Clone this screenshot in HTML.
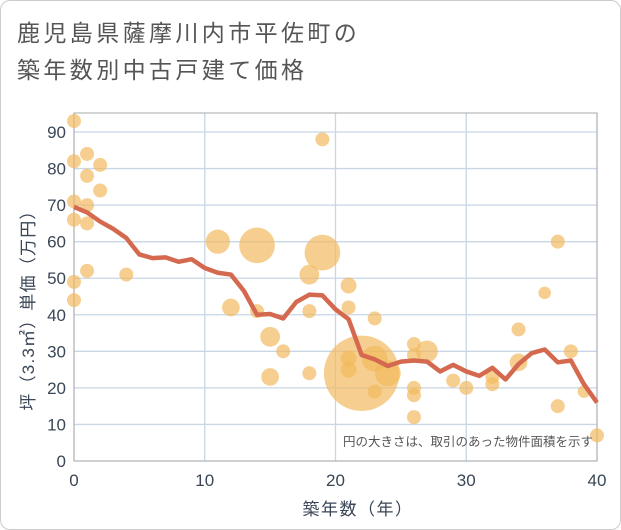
<!DOCTYPE html>
<html><head><meta charset="utf-8"><style>
body{margin:0;background:#fff;font-family:"Liberation Sans","Noto Sans CJK JP",sans-serif}
#wrap{position:relative;width:619px;height:528px;border:1px solid #ccc;border-radius:10px;overflow:hidden}
</style></head><body>
<div id="wrap">
<svg id="chart" width="619" height="528"></svg>
</div>
<script>
const lineYears=[0,1,2,3,4,5,6,7,8,9,10,11,12,13,14,15,16,17,18,19,20,21,22,23,24,25,26,27,28,29,30,31,32,33,34,35,36,37,38,39,40];
const lineValues=[69.5,68,65.5,63.5,61,56.5,55.5,55.7,54.5,55.2,52.8,51.5,51,46.5,40,40.2,39,43.5,45.5,45.3,41.5,38.8,29,27.8,26,27.2,27.5,27.2,24.5,26.3,24.5,23.3,25.5,22.3,26.5,29.5,30.5,27,27.5,21,16];
const bubbleX=[0,0,1,2,1,2,0,1,0,1,0,1,4,0,11,14,12,14,15,16,15,18,19,18,18,19,21,21,22,21,21,23,23,24,23,26,26,27,26,26,26,29,30,32,32,34,34,36,37,37,38,39,40];
const bubbleY=[93,82,84,81,78,74,71,70,66,65,49,52,51,44,60,59,42,41,34,30,23,51,57,41,24,88,48,42,24,28,25,39,28,24,19,32,29,30,20,18,12,22,20,23,21,36,27,46,60,15,30,19,7];
const bubbleArea=[1,1,1,1,1,1,1,1,1,1,1,1,1,1,3,6.5,1.6,1,2,1,1.6,2,6.5,1,1,1,1.3,1,29,1.3,1.3,1,3.4,3.4,1,1,1,2.4,1,1,1,1,1,1,1,1,1.6,0.8,1,1,1,0.8,1];
const xTicks=[0,10,20,30,40];
const yTicks=[0,10,20,30,40,50,60,70,80,90];
const NS="http://www.w3.org/2000/svg";
const svg=document.getElementById('chart');
const L=73,R=596,T=112,B=460,XMAX=40,YMAX=95.2;
const xs=v=>L+(v/XMAX)*(R-L);
const ys=v=>B-(v/YMAX)*(B-T);
function mk(tag,attrs,parent){const e=document.createElementNS(NS,tag);for(const k in attrs)e.setAttribute(k,attrs[k]);(parent||svg).appendChild(e);return e;}
function txt(x,y,s,attrs){const e=mk('text',Object.assign({x:x,y:y},attrs));e.textContent=s;return e;}
const t1=txt(16,40,'鹿児島県薩摩川内市平佐町の',{'font-size':23,fill:'#555','letter-spacing':3.4});

const t2=txt(16,77,'築年数別中古戸建て価格',{'font-size':23,fill:'#555','letter-spacing':3.4});

const grid=mk('g',{});

yTicks.forEach(v=>{const l=mk('line',{x1:L,x2:R,y1:ys(v),y2:ys(v),stroke:'#c8d6e6','stroke-width':1.3},grid);
const t=txt(L-8,ys(v)+6,String(v),{'font-size':17,fill:'#3a4656','text-anchor':'end'});});
xTicks.forEach(v=>{const l=mk('line',{x1:xs(v),x2:xs(v),y1:T,y2:B,stroke:'#c8d6e6','stroke-width':1.3},grid);
const t=txt(xs(v),B+25,String(v),{'font-size':17,fill:'#3a4656','text-anchor':'middle'});});
const frame=mk('rect',{x:L,y:T,width:R-L,height:B-T,fill:'none',stroke:'#aaa','stroke-width':1});

const bg=mk('g',{});

bubbleX.forEach((x,i)=>{const c=mk('circle',{cx:xs(x),cy:ys(bubbleY[i]),r:7*Math.sqrt(bubbleArea[i]),fill:'#f2b85c','fill-opacity':0.68},bg);
});
const pl=mk('polyline',{points:lineYears.map((x,i)=>xs(x)+','+ys(lineValues[i])).join(' '),fill:'none',stroke:'#d4694f','stroke-width':4.5,'stroke-linejoin':'round'});

const note=txt(592,445,'円の大きさは、取引のあった物件面積を示す',{'font-size':12.5,fill:'#555','text-anchor':'end'});

const xt=txt(357,514,'築年数（年）',{'font-size':17,fill:'#3a4656','text-anchor':'middle','letter-spacing':1.5});

const yt=txt(0,0,'坪（3.3㎡）単価（万円）',{'font-size':17,fill:'#3a4656','text-anchor':'middle','letter-spacing':1.2,transform:'translate(33,305) rotate(-90)'});

</script>
</body></html>
